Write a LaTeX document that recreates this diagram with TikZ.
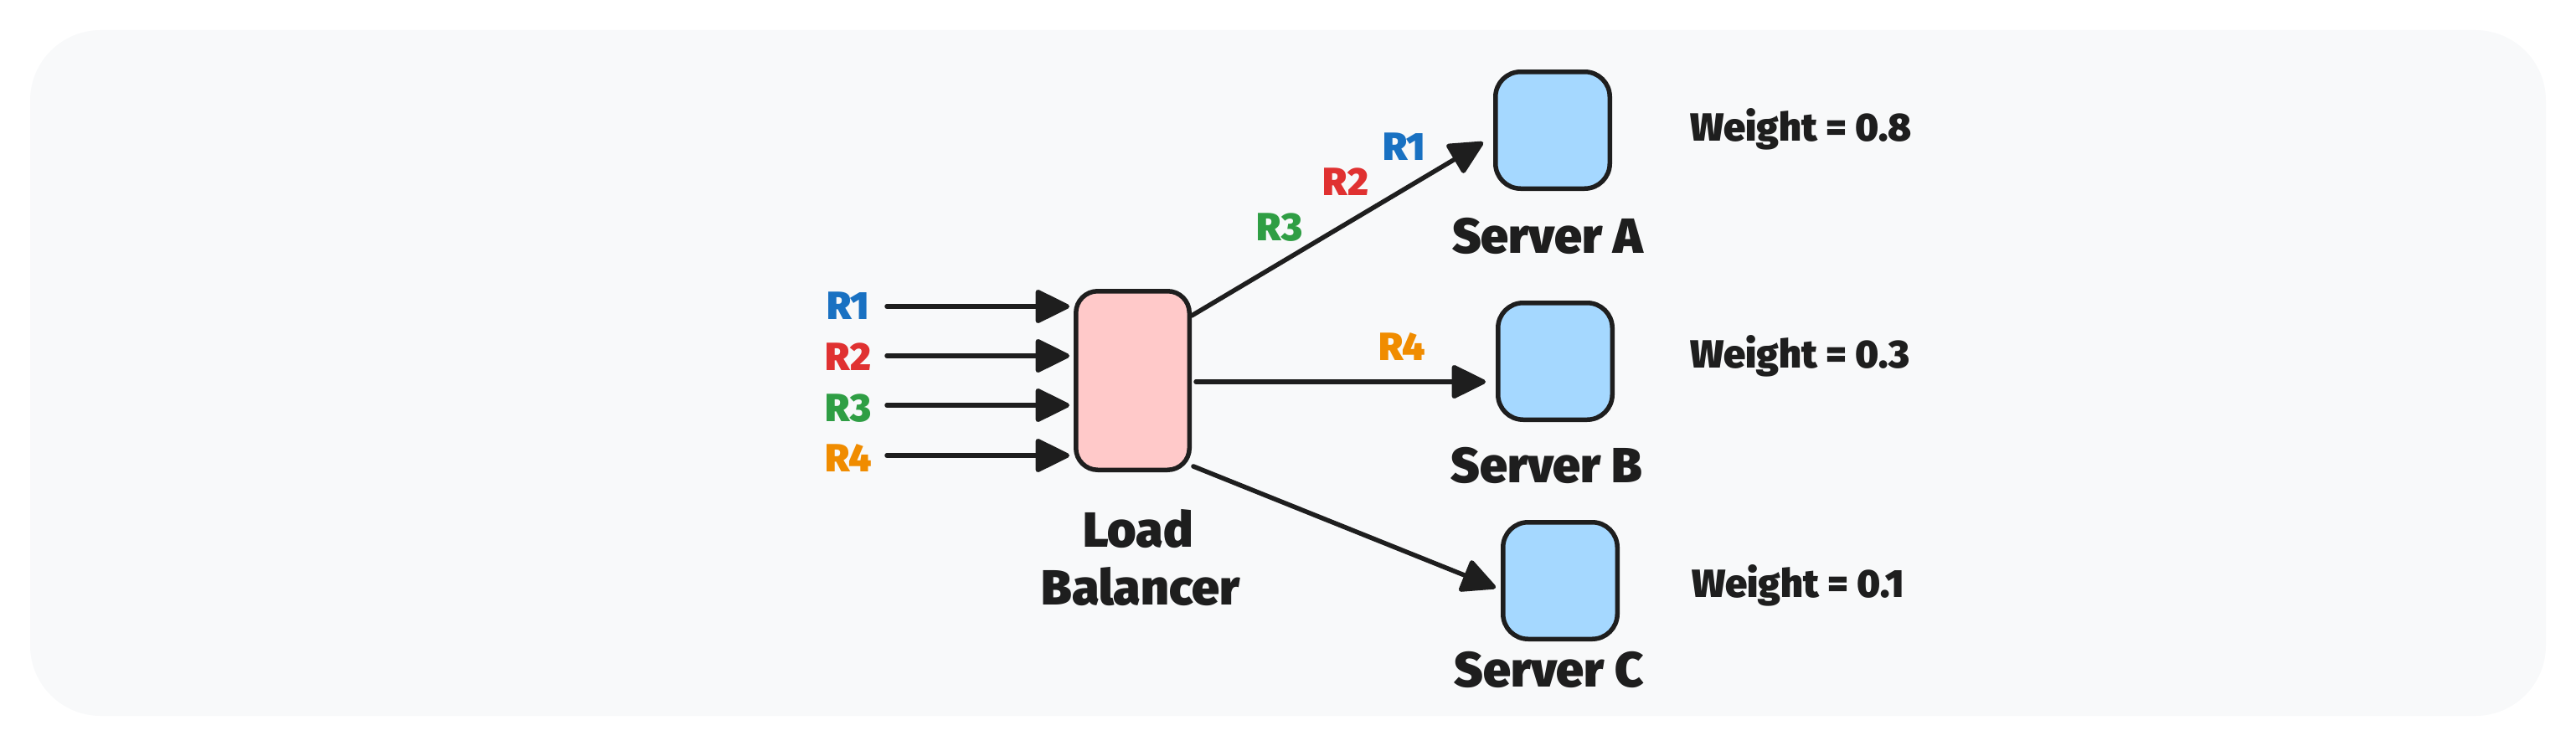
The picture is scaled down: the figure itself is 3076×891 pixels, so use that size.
\documentclass[tikz,border=0pt]{standalone}
\usepackage{fontspec}
\IfFontExistsTF{Fira Sans Heavy}{\setmainfont{Fira Sans Heavy}}{%
 \IfFontExistsTF{Fira Sans Black}{\setmainfont{Fira Sans Black}}{%
  \IfFontExistsTF{Fira Sans ExtraBold}{\setmainfont{Fira Sans ExtraBold}[FakeBold=0.6]}{%
   \setmainfont{Fira Sans}[UprightFont={* Bold},UprightFeatures={FakeBold=1.5}]}}}
\usetikzlibrary{arrows.meta,calc}
\definecolor{ink}{HTML}{1E1E1E}
\definecolor{bgc}{HTML}{F8F9FA}
\definecolor{lbfill}{HTML}{FFC9C9}
\definecolor{srvfill}{HTML}{A5D8FF}
\definecolor{rblue}{HTML}{1971C2}
\definecolor{rred}{HTML}{E03131}
\definecolor{rgreen}{HTML}{2F9E44}
\definecolor{rorange}{HTML}{F08C00}
\begin{document}
\begin{tikzpicture}[x=1pt,y=-1pt,
  box/.style={draw=ink,line width=5.5pt,rounded corners=30pt,inner sep=0pt},
  lbbox/.style={box,fill=lbfill,minimum width=135.5pt,minimum height=213.5pt,rounded corners=26pt},
  srv/.style={box,fill=srvfill,minimum width=136.5pt,minimum height=139.5pt},
  arr/.style={draw=ink,line width=5.5pt,line cap=round,-{Triangle[length=44pt,width=42pt,round]}},
  rlab/.style={inner sep=0pt,anchor=base,font=\fontsize{47}{50}\selectfont},
  title/.style={inner sep=0pt,anchor=base,text=ink,font=\fontsize{59}{69}\selectfont},
  wlab/.style={inner sep=0pt,anchor=base west,text=ink,font=\fontsize{47}{55}\selectfont}]
\useasboundingbox (0,0) rectangle (3076,891);
\fill[bgc,rounded corners=84pt] (36,36) rectangle (3040,855);

% nodes
\node[lbbox] (lb) at (1352.5,454.5) {};
\node[srv] (sa) at (1854,155.5) {};
\node[srv] (sb) at (1857,431.5) {};
\node[srv] (sc) at (1863,693.5) {};

% labels
\node[title] (lbl1) at (1359,653) {Load};
\node[title] (lbl2) at (1362,722) {Balancer};
\node[title] (sal) at (1848,302) {Server A};
\node[title] (sbl) at (1847,576) {Server B};
\node[title] (scl) at (1850,820) {Server C};
\node[wlab] (wa) at (2018,168) {Weight = 0.8};
\node[wlab] (wb) at (2018,439) {Weight = 0.3};
\node[wlab] (wc) at (2020,713) {Weight = 0.1};

% incoming requests
\node[rlab,text=rblue] (r1) at (1013,381) {R1};
\node[rlab,text=rred] (r2) at (1013,442) {R2};
\node[rlab,text=rgreen] (r3) at (1013,503) {R3};
\node[rlab,text=rorange] (r4) at (1013,563) {R4};
\coordinate (s1) at (1059,366);
\coordinate (s2) at (1059,425);
\coordinate (s3) at (1059,484);
\coordinate (s4) at (1059,544);
\draw[arr,shorten >=5pt] (s1) -- (s1 -| lb.west);
\draw[arr,shorten >=5pt] (s2) -- (s2 -| lb.west);
\draw[arr,shorten >=5pt] (s3) -- (s3 -| lb.west);
\draw[arr,shorten >=5pt] (s4) -- (s4 -| lb.west);

% outgoing
\draw[arr] ($(lb.north east)+(0,32)$) -- ($(sa.west)+(-12,14.5)$);
\draw[arr] ($(lb.east)+(5,1.5)$) -- ($(sb.west)+(-12,24.5)$);
\draw[arr] ($(lb.south east)+(2,-7)$) -- ($(sc.west)+(-6,8.5)$);

% labels on connectors
\node[rlab,text=rblue] (a1) at (1677,191) {R1};
\node[rlab,text=rred] (a2) at (1607,233) {R2};
\node[rlab,text=rgreen] (a3) at (1528,287) {R3};
\node[rlab,text=rorange] (b4) at (1674,430) {R4};
\end{tikzpicture}
\end{document}
